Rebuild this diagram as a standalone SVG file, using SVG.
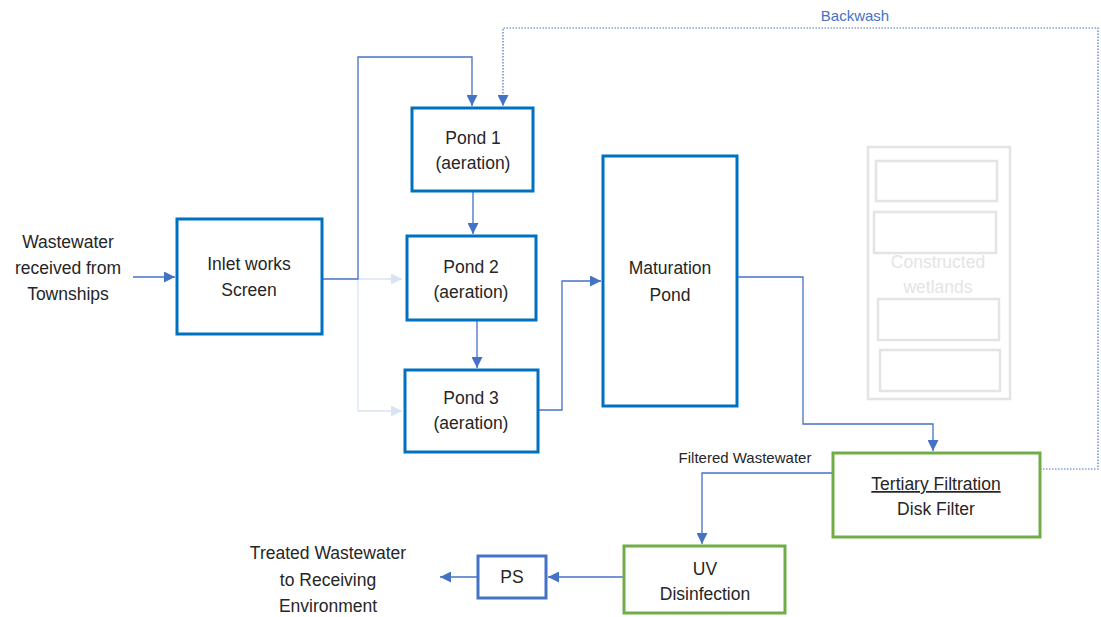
<svg xmlns="http://www.w3.org/2000/svg" width="1101" height="617" viewBox="0 0 1101 617">
  <defs>
    <marker id="arr" viewBox="0 0 10 10" refX="10" refY="5" markerWidth="11" markerHeight="11" markerUnits="userSpaceOnUse" orient="auto">
      <path d="M0,0 L10,5 L0,10 Z" fill="#4472C4"/>
    </marker>
    <marker id="arrLight" viewBox="0 0 10 10" refX="10" refY="5" markerWidth="11" markerHeight="11" markerUnits="userSpaceOnUse" orient="auto">
      <path d="M0,0 L10,5 L0,10 Z" fill="#DAE3F3"/>
    </marker>
    <style>
      .txt { font-family: "Liberation Sans", Arial, sans-serif; font-size: 17.5px; fill: #262626; text-anchor: middle; }
      .small { font-size: 15px; }
      .ghost { fill: #E4E4E4; }
      .blue { fill: #4472C4; }
      .pond { fill: #FFFFFF; stroke: #0070C0; stroke-width: 3; }
      .green { fill: #FFFFFF; stroke: #70AD47; stroke-width: 3; }
      .ps { fill: #FFFFFF; stroke: #4472C4; stroke-width: 3; }
      .wet { fill: none; stroke: #E4E4E4; stroke-width: 2.5; }
      .con { fill: none; stroke: #4472C4; stroke-width: 1.3; }
      .conLight { fill: none; stroke: #DAE3F3; stroke-width: 1.3; }
      .dash { fill: none; stroke: #4472C4; stroke-width: 1.2; stroke-dasharray: 1.5 1.5; }
    </style>
  </defs>

  <rect width="1101" height="617" fill="#FFFFFF"/>

  <!-- connectors -->
  <g id="connectors">
    <path class="conLight" d="M358,279 V411 H402" marker-end="url(#arrLight)"/>
    <path class="conLight" d="M358,279 H402" marker-end="url(#arrLight)"/>
    <path class="con" d="M133,277 H175" marker-end="url(#arr)"/>
    <path class="con" d="M322,279 H358 V57 H472 V106" marker-end="url(#arr)"/>
    <path class="dash" d="M1040,469 H1098 V28 H503 V106" marker-end="url(#arr)"/>
    <path class="con" d="M473,191 V234" marker-end="url(#arr)"/>
    <path class="con" d="M477,320 V368" marker-end="url(#arr)"/>
    <path class="con" d="M538,410 H562 V281 H601" marker-end="url(#arr)"/>
    <path class="con" d="M737,277 H803 V424 H933 V451" marker-end="url(#arr)"/>
    <path class="con" d="M833,473 H702 V544" marker-end="url(#arr)"/>
    <path class="con" d="M624,577 H548" marker-end="url(#arr)"/>
    <path class="con" d="M478,577 H440" marker-end="url(#arr)"/>
    <text class="txt small blue" x="855" y="21">Backwash</text>
    <text class="txt small" x="745" y="463">Filtered Wastewater</text>
  </g>

  <!-- source / outlet labels -->
  <g id="source">
    <text class="txt" x="68" y="248">Wastewater</text>
    <text class="txt" x="68" y="274">received from</text>
    <text class="txt" x="68" y="300">Townships</text>
  </g>

  <g id="outlet">
    <text class="txt" x="328" y="559">Treated Wastewater</text>
    <text class="txt" x="328" y="586">to Receiving</text>
    <text class="txt" x="328" y="612">Environment</text>
  </g>

  <!-- process units -->
  <g id="inlet-works">
    <rect class="pond" x="177" y="219" width="145" height="115"/>
    <text class="txt" x="249" y="270">Inlet works</text>
    <text class="txt" x="249" y="296">Screen</text>
  </g>

  <g id="pond-1">
    <rect class="pond" x="412" y="108" width="121" height="83"/>
    <text class="txt" x="473" y="144">Pond 1</text>
    <text class="txt" x="473" y="169">(aeration)</text>
  </g>

  <g id="pond-2">
    <rect class="pond" x="407" y="236" width="129" height="84"/>
    <text class="txt" x="471" y="273">Pond 2</text>
    <text class="txt" x="471" y="298">(aeration)</text>
  </g>

  <g id="pond-3">
    <rect class="pond" x="405" y="370" width="133" height="82"/>
    <text class="txt" x="471" y="404">Pond 3</text>
    <text class="txt" x="471" y="429">(aeration)</text>
  </g>

  <g id="maturation-pond">
    <rect class="pond" x="603" y="156" width="134" height="250"/>
    <text class="txt" x="670" y="274">Maturation</text>
    <text class="txt" x="670" y="301">Pond</text>
  </g>

  <g id="constructed-wetlands">
    <rect class="wet" x="868" y="147" width="142" height="252"/>
    <rect class="wet" x="876" y="161" width="121" height="40"/>
    <rect class="wet" x="874" y="212" width="122" height="41"/>
    <rect class="wet" x="878" y="299" width="121" height="41"/>
    <rect class="wet" x="880" y="350" width="120" height="41"/>
    <text class="txt ghost" x="938" y="268">Constructed</text>
    <text class="txt ghost" x="938" y="293">wetlands</text>
  </g>

  <g id="tertiary-filtration">
    <rect class="green" x="833" y="453" width="207" height="84"/>
    <text class="txt" x="936" y="490" text-decoration="underline">Tertiary Filtration</text>
    <text class="txt" x="936" y="515">Disk Filter</text>
  </g>

  <g id="uv-disinfection">
    <rect class="green" x="624" y="546" width="161" height="67"/>
    <text class="txt" x="705" y="575">UV</text>
    <text class="txt" x="705" y="600">Disinfection</text>
  </g>

  <g id="pump-station">
    <rect class="ps" x="478" y="556" width="68" height="42"/>
    <text class="txt" x="512" y="583">PS</text>
  </g>
</svg>
